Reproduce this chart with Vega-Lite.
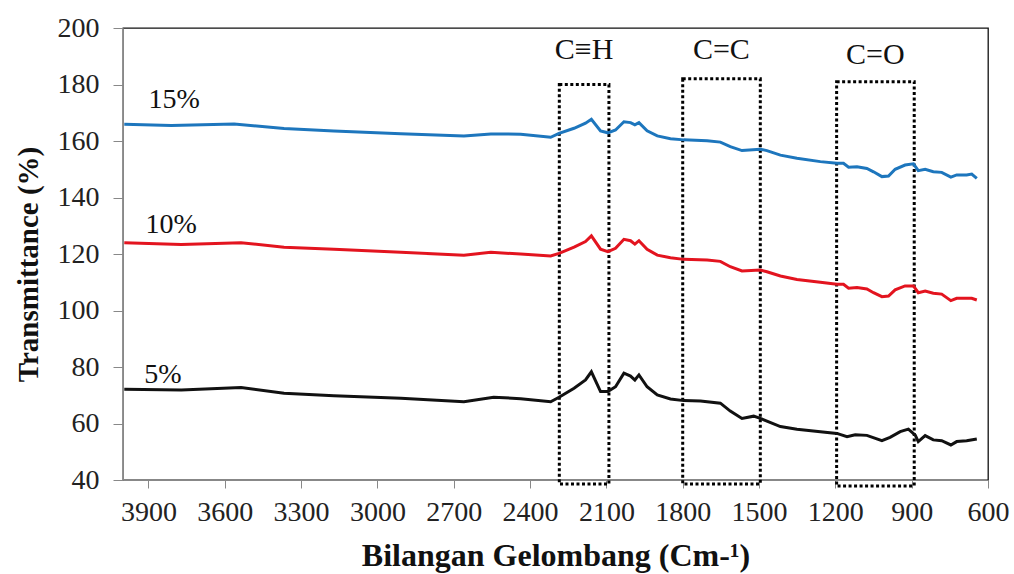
{
  "$schema": "https://vega.github.io/schema/vega-lite/v6.json",
  "width": 865,
  "height": 452,
  "autosize": {"type": "none"},
  "padding": {"left": 123, "top": 28, "right": 26, "bottom": 94},
  "config": {
    "view": {"stroke": "#111", "strokeWidth": 1.3},
    "axis": {"grid": false, "labelColor": "#222", "titleColor": "#111", "domainColor": "#888", "tickColor": "#888", "labelFlush": false, "labelOverlap": false}
  },
  "datasets": {
    "spectra": [
      {"w":3995,"t":165.9,"s":"15%"},{"w":3810,"t":165.5,"s":"15%"},{"w":3563,"t":166.0,"s":"15%"},{"w":3367,"t":164.4,"s":"15%"},{"w":3171,"t":163.5,"s":"15%"},{"w":2908,"t":162.6,"s":"15%"},{"w":2660,"t":161.8,"s":"15%"},{"w":2554,"t":162.5,"s":"15%"},{"w":2437,"t":162.4,"s":"15%"},{"w":2319,"t":161.3,"s":"15%"},{"w":2286,"t":162.7,"s":"15%"},{"w":2227,"t":164.5,"s":"15%"},{"w":2182,"t":166.3,"s":"15%"},{"w":2159,"t":167.7,"s":"15%"},{"w":2123,"t":163.6,"s":"15%"},{"w":2094,"t":162.9,"s":"15%"},{"w":2064,"t":163.9,"s":"15%"},{"w":2031,"t":166.8,"s":"15%"},{"w":2005,"t":166.5,"s":"15%"},{"w":1988,"t":165.7,"s":"15%"},{"w":1972,"t":166.5,"s":"15%"},{"w":1940,"t":163.6,"s":"15%"},{"w":1900,"t":161.8,"s":"15%"},{"w":1848,"t":160.8,"s":"15%"},{"w":1796,"t":160.4,"s":"15%"},{"w":1704,"t":160.1,"s":"15%"},{"w":1652,"t":159.6,"s":"15%"},{"w":1613,"t":158.0,"s":"15%"},{"w":1567,"t":156.6,"s":"15%"},{"w":1495,"t":157.1,"s":"15%"},{"w":1469,"t":156.6,"s":"15%"},{"w":1416,"t":155.0,"s":"15%"},{"w":1351,"t":153.9,"s":"15%"},{"w":1259,"t":152.7,"s":"15%"},{"w":1194,"t":152.1,"s":"15%"},{"w":1168,"t":152.1,"s":"15%"},{"w":1148,"t":150.7,"s":"15%"},{"w":1115,"t":150.9,"s":"15%"},{"w":1076,"t":150.3,"s":"15%"},{"w":1050,"t":149.1,"s":"15%"},{"w":1017,"t":147.4,"s":"15%"},{"w":991,"t":147.6,"s":"15%"},{"w":965,"t":150.0,"s":"15%"},{"w":926,"t":151.5,"s":"15%"},{"w":893,"t":151.9,"s":"15%"},{"w":874,"t":149.5,"s":"15%"},{"w":847,"t":150.0,"s":"15%"},{"w":815,"t":149.1,"s":"15%"},{"w":782,"t":148.9,"s":"15%"},{"w":746,"t":147.2,"s":"15%"},{"w":723,"t":148.0,"s":"15%"},{"w":684,"t":148.0,"s":"15%"},{"w":664,"t":148.3,"s":"15%"},{"w":644,"t":146.8,"s":"15%"},
      {"w":3995,"t":124.0,"s":"10%"},{"w":3771,"t":123.4,"s":"10%"},{"w":3536,"t":124.0,"s":"10%"},{"w":3367,"t":122.4,"s":"10%"},{"w":3171,"t":121.7,"s":"10%"},{"w":2908,"t":120.6,"s":"10%"},{"w":2660,"t":119.6,"s":"10%"},{"w":2554,"t":120.6,"s":"10%"},{"w":2437,"t":120.0,"s":"10%"},{"w":2319,"t":119.3,"s":"10%"},{"w":2286,"t":120.2,"s":"10%"},{"w":2227,"t":122.4,"s":"10%"},{"w":2182,"t":124.4,"s":"10%"},{"w":2159,"t":126.4,"s":"10%"},{"w":2123,"t":121.7,"s":"10%"},{"w":2094,"t":120.8,"s":"10%"},{"w":2064,"t":122.0,"s":"10%"},{"w":2031,"t":125.2,"s":"10%"},{"w":2005,"t":124.7,"s":"10%"},{"w":1988,"t":123.5,"s":"10%"},{"w":1972,"t":124.7,"s":"10%"},{"w":1940,"t":121.7,"s":"10%"},{"w":1900,"t":119.6,"s":"10%"},{"w":1848,"t":118.7,"s":"10%"},{"w":1796,"t":118.1,"s":"10%"},{"w":1704,"t":117.9,"s":"10%"},{"w":1652,"t":117.4,"s":"10%"},{"w":1613,"t":115.5,"s":"10%"},{"w":1567,"t":114.0,"s":"10%"},{"w":1495,"t":114.3,"s":"10%"},{"w":1469,"t":113.7,"s":"10%"},{"w":1416,"t":112.2,"s":"10%"},{"w":1351,"t":111.0,"s":"10%"},{"w":1259,"t":110.0,"s":"10%"},{"w":1194,"t":109.3,"s":"10%"},{"w":1168,"t":109.3,"s":"10%"},{"w":1148,"t":107.9,"s":"10%"},{"w":1115,"t":108.1,"s":"10%"},{"w":1076,"t":107.6,"s":"10%"},{"w":1050,"t":106.3,"s":"10%"},{"w":1017,"t":104.9,"s":"10%"},{"w":991,"t":105.1,"s":"10%"},{"w":965,"t":107.3,"s":"10%"},{"w":926,"t":108.7,"s":"10%"},{"w":893,"t":108.7,"s":"10%"},{"w":874,"t":106.3,"s":"10%"},{"w":847,"t":106.9,"s":"10%"},{"w":815,"t":106.1,"s":"10%"},{"w":782,"t":105.8,"s":"10%"},{"w":746,"t":103.5,"s":"10%"},{"w":723,"t":104.3,"s":"10%"},{"w":684,"t":104.3,"s":"10%"},{"w":664,"t":104.3,"s":"10%"},{"w":644,"t":103.7,"s":"10%"},
      {"w":3995,"t":72.1,"s":"5%"},{"w":3771,"t":71.9,"s":"5%"},{"w":3536,"t":72.7,"s":"5%"},{"w":3367,"t":70.7,"s":"5%"},{"w":3171,"t":69.8,"s":"5%"},{"w":2908,"t":68.9,"s":"5%"},{"w":2660,"t":67.7,"s":"5%"},{"w":2543,"t":69.3,"s":"5%"},{"w":2437,"t":68.8,"s":"5%"},{"w":2319,"t":67.7,"s":"5%"},{"w":2286,"t":69.3,"s":"5%"},{"w":2227,"t":72.5,"s":"5%"},{"w":2182,"t":75.4,"s":"5%"},{"w":2159,"t":78.3,"s":"5%"},{"w":2123,"t":71.3,"s":"5%"},{"w":2094,"t":71.3,"s":"5%"},{"w":2064,"t":73.0,"s":"5%"},{"w":2031,"t":77.8,"s":"5%"},{"w":2005,"t":76.8,"s":"5%"},{"w":1988,"t":75.4,"s":"5%"},{"w":1972,"t":77.2,"s":"5%"},{"w":1940,"t":73.0,"s":"5%"},{"w":1900,"t":70.1,"s":"5%"},{"w":1848,"t":68.7,"s":"5%"},{"w":1796,"t":68.1,"s":"5%"},{"w":1730,"t":68.0,"s":"5%"},{"w":1652,"t":67.2,"s":"5%"},{"w":1613,"t":64.4,"s":"5%"},{"w":1567,"t":61.8,"s":"5%"},{"w":1521,"t":62.6,"s":"5%"},{"w":1495,"t":61.8,"s":"5%"},{"w":1416,"t":58.9,"s":"5%"},{"w":1351,"t":58.0,"s":"5%"},{"w":1259,"t":57.1,"s":"5%"},{"w":1194,"t":56.5,"s":"5%"},{"w":1154,"t":55.3,"s":"5%"},{"w":1122,"t":56.0,"s":"5%"},{"w":1076,"t":55.8,"s":"5%"},{"w":1017,"t":53.9,"s":"5%"},{"w":985,"t":55.1,"s":"5%"},{"w":945,"t":57.1,"s":"5%"},{"w":913,"t":58.0,"s":"5%"},{"w":886,"t":55.9,"s":"5%"},{"w":874,"t":53.6,"s":"5%"},{"w":847,"t":55.7,"s":"5%"},{"w":815,"t":54.2,"s":"5%"},{"w":782,"t":53.9,"s":"5%"},{"w":746,"t":52.4,"s":"5%"},{"w":723,"t":53.6,"s":"5%"},{"w":684,"t":53.9,"s":"5%"},{"w":644,"t":54.5,"s":"5%"}
    ],
    "boxes": [
      {"a":2285,"b":2090,"top":180,"bottom":38.6,"label":"C≡H","lw":2188,"lt":192.2},
      {"a":1800,"b":1495,"top":182,"bottom":38.6,"label":"C=C","lw":1648,"lt":192.2},
      {"a":1195,"b":890,"top":181,"bottom":37.9,"label":"C=O","lw":1043,"lt":190.4}
    ],
    "serieslabels": [
      {"w":3900,"t":171.7,"label":"15%"},
      {"w":3912,"t":127.4,"label":"10%"},
      {"w":3916,"t":74.3,"label":"5%"}
    ]
  },
  "layer": [
    {
      "data": {"name": "boxes"},
      "mark": {"type": "rect", "fill": null, "filled": false, "stroke": "#000", "strokeWidth": 3, "strokeDash": [3, 2.5], "clip": false},
      "encoding": {
        "x": {"field": "a", "type": "quantitative", "scale": {"domain": [600, 4000], "reverse": true, "nice": false, "zero": false},
          "axis": {"values": [3900,3600,3300,3000,2700,2400,2100,1800,1500,1200,900,600], "format": "d", "labelFont": "Liberation Serif", "labelFontSize": 28, "labelPadding": 10, "tickSize": 8,
            "title": "Bilangan Gelombang (Cm-¹)", "titleFont": "Liberation Serif", "titleFontSize": 32, "titleFontWeight": "bold", "titleY": 85, "titleBaseline": "alphabetic"}},
        "x2": {"field": "b"},
        "y": {"field": "top", "type": "quantitative", "scale": {"domain": [40, 200], "nice": false, "zero": false},
          "axis": {"values": [40,60,80,100,120,140,160,180,200], "labelFont": "Liberation Serif", "labelFontSize": 28, "labelPadding": 14, "tickSize": 10,
            "title": "Transmittance (%)", "titleFont": "Liberation Serif", "titleFontSize": 29, "titleFontWeight": "bold", "titleX": -95, "titleY": 236, "titleBaseline": "middle", "titleAngle": 270, "titleAlign": "center"}},
        "y2": {"field": "bottom"}
      }
    },
    {
      "data": {"name": "spectra"},
      "mark": {"type": "line", "strokeWidth": 3, "interpolate": "linear"},
      "encoding": {
        "x": {"field": "w", "type": "quantitative"},
        "y": {"field": "t", "type": "quantitative"},
        "color": {"field": "s", "type": "nominal", "scale": {"domain": ["15%", "10%", "5%"], "range": ["#1d76bd", "#e3141f", "#111111"]}, "legend": null},
        "detail": {"field": "s"}
      }
    },
    {
      "data": {"name": "boxes"},
      "mark": {"type": "text", "fontSize": 30, "font": "Liberation Serif", "color": "#111", "align": "center", "baseline": "middle"},
      "encoding": {
        "x": {"field": "lw", "type": "quantitative"},
        "y": {"field": "lt", "type": "quantitative"},
        "text": {"field": "label"}
      }
    },
    {
      "data": {"name": "serieslabels"},
      "mark": {"type": "text", "fontSize": 28, "font": "Liberation Serif", "color": "#111", "align": "left", "baseline": "alphabetic"},
      "encoding": {
        "x": {"field": "w", "type": "quantitative"},
        "y": {"field": "t", "type": "quantitative"},
        "text": {"field": "label"}
      }
    }
  ]
}
